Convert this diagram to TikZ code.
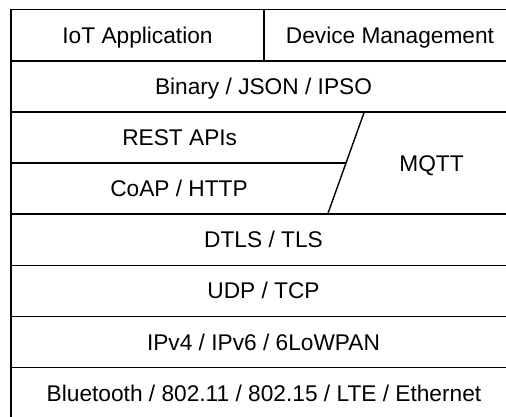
\documentclass[tikz,border=0pt]{standalone}
\usepackage{fontspec}
\setmainfont{Liberation Sans}
\begin{document}
\begin{tikzpicture}[x=1pt,y=-1pt,
  line/.style={draw=black,line width=1.4pt},
  lbl/.style={font=\fontsize{22.7}{26}\selectfont,inner sep=0pt,anchor=base,text=black}]
\useasboundingbox (0,0) rectangle (506,416);
\clip (0,0) rectangle (506,416);
% outer frame and horizontal layers
\draw[line] (11,418.5) -- (11,9.7) -- (516,9.7);
\draw[line] (264,9.7) -- (264,60.8);
\foreach \y in {60.8,111.9,214.1,265.2,316.3,367.4}
  \draw[line] (11,\y) -- (516,\y);
\draw[line] (11,163) -- (346,163);
\draw[line] (364.3,111.9) -- (327.7,214.1);
\draw[line] (516,9.7) -- (516,418.5) -- (11,418.5);
% labels
\node[lbl] (app)  at (137.5,43.4)  {IoT Application};
\node[lbl] (dm)   at (390,43.4)    {Device Management};
\node[lbl] (bin)  at (263.5,94.5)  {Binary / JSON / IPSO};
\node[lbl] (rest) at (179.7,145.6) {REST APIs};
\node[lbl] (coap) at (179,196.7)   {CoAP / HTTP};
\node[lbl] (mqtt) at (431.5,171.6) {MQTT};
\node[lbl] (dtls) at (263.5,247.8) {DTLS / TLS};
\node[lbl] (udp)  at (263.5,298.9) {UDP / TCP};
\node[lbl] (ip)   at (263.5,350)   {IPv4 / IPv6 / 6LoWPAN};
\node[lbl] (phy)  at (264,401.1)   {Bluetooth / 802.11 / 802.15 / LTE / Ethernet};
\end{tikzpicture}
\end{document}
